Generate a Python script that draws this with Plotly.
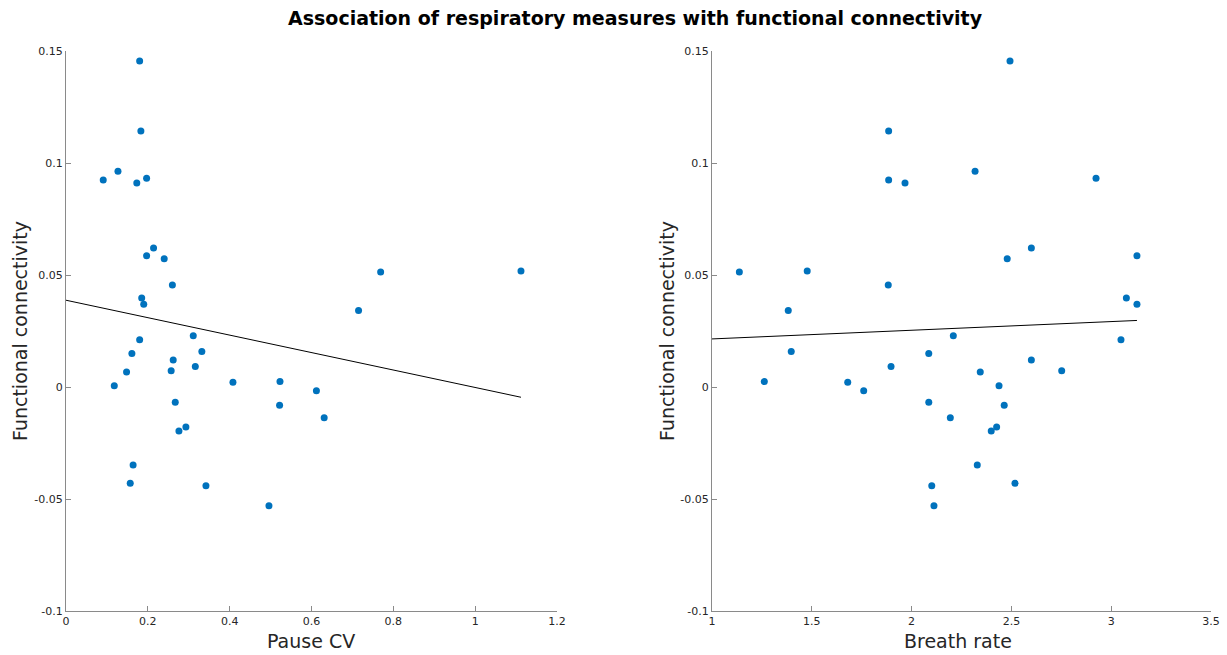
import numpy as np
import plotly.graph_objects as go

title_text = "Association of respiratory measures with functional connectivity"

functional_connectivity = [
    0.1455, 0.1143, 0.0924, 0.0963, 0.0911, 0.0932, 0.0621, 0.0586, 0.0573,
    0.0397, 0.0369, 0.0455, 0.0513, 0.0518, 0.0342, 0.0211, 0.0229, 0.0149,
    0.0159, 0.0067, 0.0121, 0.0073, 0.0091, 0.0006, 0.0021, 0.0024, -0.0017,
    -0.0068, -0.0082, -0.0137, -0.0196, -0.0179, -0.0348, -0.0430, -0.0441, -0.0530,
]

pause_cv = [
    0.180, 0.183, 0.091, 0.127, 0.173, 0.197, 0.214, 0.197, 0.240,
    0.185, 0.190, 0.260, 0.769, 1.112, 0.715, 0.180, 0.311, 0.161,
    0.332, 0.148, 0.262, 0.257, 0.316, 0.118, 0.408, 0.523, 0.612,
    0.267, 0.522, 0.631, 0.276, 0.293, 0.164, 0.157, 0.342, 0.496,
]

breath_rate = [
    2.493, 1.885, 1.885, 2.318, 1.967, 2.924, 2.600, 3.129, 2.479,
    3.076, 3.129, 1.883, 1.137, 1.477, 1.382, 3.049, 2.209, 2.086,
    1.397, 2.344, 2.600, 2.752, 1.897, 2.438, 1.680, 1.262, 1.760,
    2.086, 2.464, 2.194, 2.399, 2.426, 2.329, 2.518, 2.101, 2.112,
]

y_ticks = [-0.1, -0.05, 0, 0.05, 0.1, 0.15]
y_tick_labels = ["-0.1", "-0.05", "0", "0.05", "0.1", "0.15"]
x1_ticks = [0, 0.2, 0.4, 0.6, 0.8, 1.0, 1.2]
x1_tick_labels = ["0", "0.2", "0.4", "0.6", "0.8", "1", "1.2"]
x2_ticks = [1, 1.5, 2, 2.5, 3, 3.5]
x2_tick_labels = ["1", "1.5", "2", "2.5", "3", "3.5"]
x1_range = [0, 1.2]
x2_range = [1, 3.5]
y_range = [-0.1, 0.15]

MARKER = "#0072BD"
AXC = "#8a8a8a"
TXT = "#262626"

fig = go.Figure()

def add_panel(x, y, xr, xa, ya):
    fig.add_trace(go.Scatter(x=x, y=y, mode="markers", xaxis=xa, yaxis=ya,
                             marker=dict(color=MARKER, size=7, line=dict(width=0)),
                             showlegend=False, hoverinfo="skip"))
    slope, intercept = np.polyfit(np.array(x), np.array(y), 1)
    lx = np.array([xr[0], max(x)])
    fig.add_trace(go.Scatter(x=lx, y=intercept + slope * lx, mode="lines",
                             xaxis=xa, yaxis=ya, line=dict(color="black", width=1),
                             showlegend=False, hoverinfo="skip"))

add_panel(pause_cv, functional_connectivity, x1_range, "x", "y")
add_panel(breath_rate, functional_connectivity, x2_range, "x2", "y2")

ydom = [44 / 655, 604 / 655]
common_axis = dict(showgrid=False, zeroline=False, showline=True, linecolor=AXC,
                   linewidth=1, ticks="inside", ticklen=5, tickcolor=AXC,
                   automargin=False,
                   tickfont=dict(family="DejaVu Sans", size=11, color=TXT))

fig.update_layout(
    width=1227, height=655, margin=dict(l=0, r=0, t=0, b=0, pad=0, autoexpand=False),
    paper_bgcolor="white", plot_bgcolor="white",
    xaxis=dict(domain=[66 / 1227, 557 / 1227], range=x1_range, tickvals=x1_ticks,
               ticktext=x1_tick_labels, anchor="y", **common_axis),
    yaxis=dict(domain=ydom, range=y_range, tickvals=y_ticks, ticktext=y_tick_labels,
               anchor="x", **common_axis),
    xaxis2=dict(domain=[712 / 1227, 1211 / 1227], range=x2_range, tickvals=x2_ticks,
                ticktext=x2_tick_labels, anchor="y2", **common_axis),
    yaxis2=dict(domain=ydom, range=y_range, tickvals=y_ticks, ticktext=y_tick_labels,
                anchor="x2", **common_axis),
)

annos = [
    dict(text="<b>" + title_text + "</b>", x=635 / 1227, y=1 - 18 / 655,
         font=dict(family="DejaVu Sans", size=19, color="black")),
    dict(text="Pause CV", x=311 / 1227, y=1 - 641 / 655,
         font=dict(family="DejaVu Sans", size=19, color=TXT)),
    dict(text="Breath rate", x=958 / 1227, y=1 - 641 / 655,
         font=dict(family="DejaVu Sans", size=19, color=TXT)),
    dict(text="Functional connectivity", x=20 / 1227, y=1 - 331 / 655, textangle=-90,
         font=dict(family="DejaVu Sans", size=19, color=TXT)),
    dict(text="Functional connectivity", x=667 / 1227, y=1 - 331 / 655, textangle=-90,
         font=dict(family="DejaVu Sans", size=19, color=TXT)),
]
for a in annos:
    fig.add_annotation(xref="paper", yref="paper", showarrow=False,
                       xanchor="center", yanchor="middle", **a)

fig.write_html("out.html")
